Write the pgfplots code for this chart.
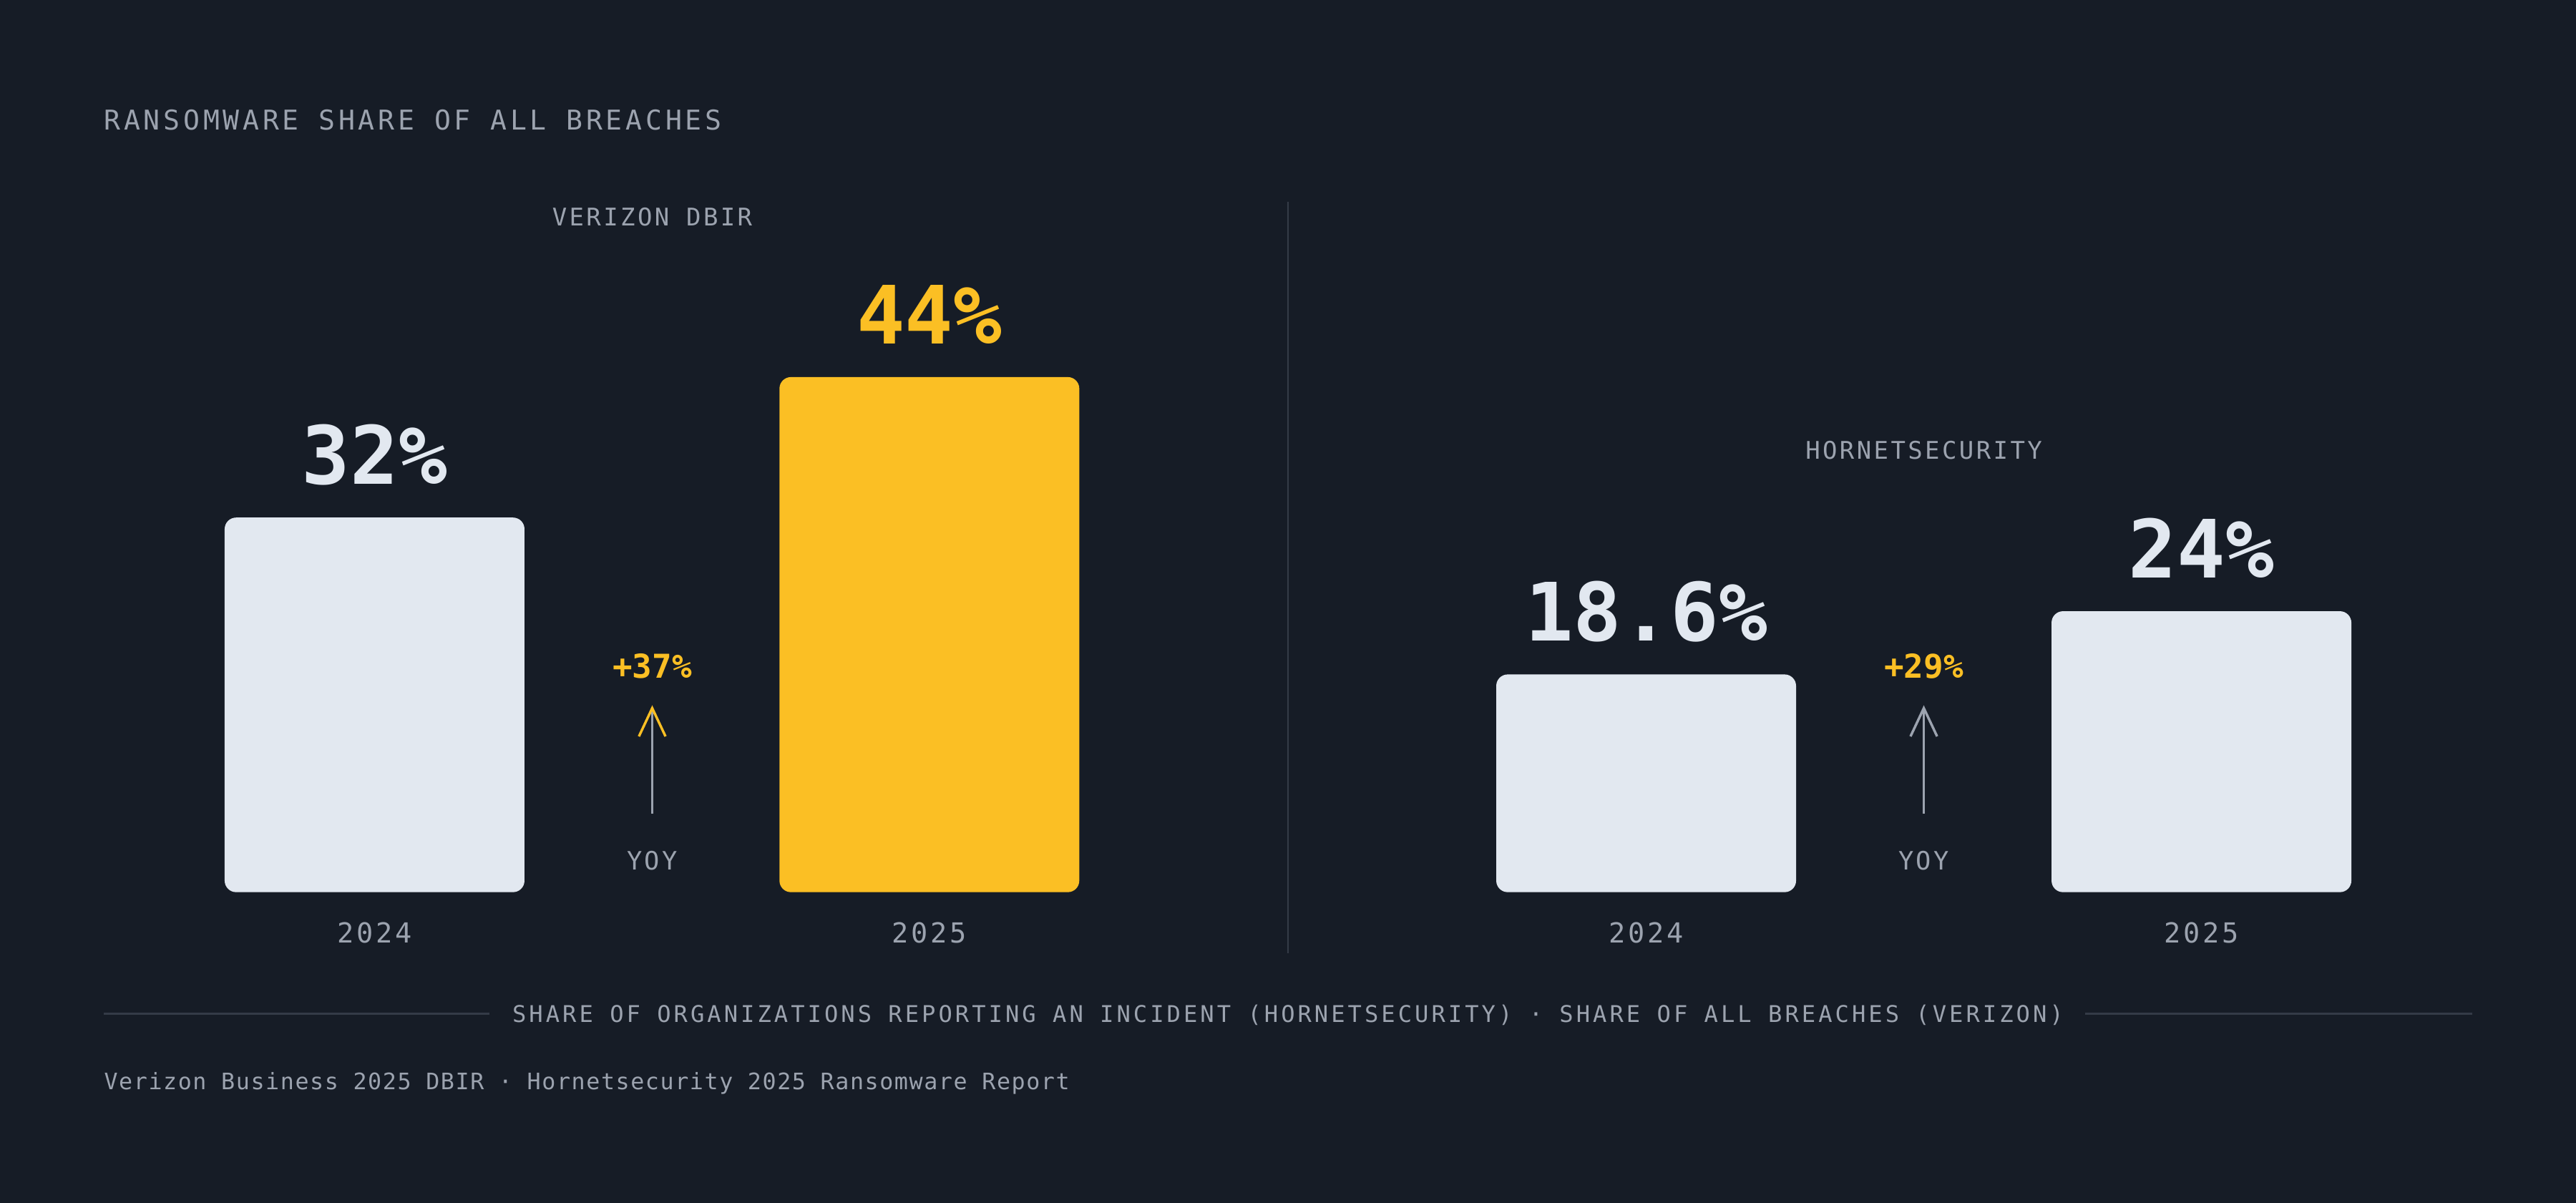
\documentclass[border=0pt]{standalone}
\usepackage{fontspec}
\usepackage{pgfplots}
\pgfplotsset{compat=1.18}

\setmainfont{DejaVu Sans Mono}
\newfontfamily\trkfont{DejaVu Sans Mono}[LetterSpace=10]
\newfontfamily\trkwide{DejaVu Sans Mono}[LetterSpace=12.5]
\newfontfamily\trkfoot{DejaVu Sans Mono}[LetterSpace=5]

\definecolor{bgc}{HTML}{161C26}
\definecolor{barlight}{HTML}{E2E8F0}
\definecolor{accent}{HTML}{FBBF24}
\definecolor{txtgray}{HTML}{9CA3AF}
\definecolor{rulec}{HTML}{343B47}

\begin{document}
\begin{tikzpicture}
% page background, 1568 x 732 units of 0.5pt
\fill[bgc] (0,0) rectangle (784pt,366pt);

\begin{axis}[
    at={(0pt,0pt)}, anchor=south west,
    width=784pt, height=366pt, scale only axis,
    xmin=0, xmax=1568,
    ymin=-26.526, ymax=76.21,
    hide axis, clip=false,
    /pgf/number format/assume math mode=true,
]
% Verizon 2024, Hornetsecurity 2024 / 2025
\addplot[ybar, bar shift=0pt, bar width=182.5, fill=barlight, draw=none,
    rounded corners=3.5pt,
    nodes near coords={\pgfmathprintnumber{\pgfplotspointmeta}\%},
    every node near coord/.append style={anchor=base, inner sep=0pt,
        yshift=10.2pt, text=barlight, rounded corners=0pt,
        font=\bfseries\fontsize{24.5}{24.5}\selectfont}]
    coordinates {(228,32) (1002,18.6) (1340,24)};
% Verizon 2025 (highlighted)
\addplot[ybar, bar shift=0pt, bar width=182.5, fill=accent, draw=none,
    rounded corners=3.5pt,
    nodes near coords={\pgfmathprintnumber{\pgfplotspointmeta}\%},
    every node near coord/.append style={anchor=base, inner sep=0pt,
        yshift=10.2pt, text=accent, rounded corners=0pt,
        font=\bfseries\fontsize{24.5}{24.5}\selectfont}]
    coordinates {(565.7,44)};
\end{axis}

% annotations, in the same 0.5pt units, y running down
\begin{scope}[x=0.5pt, y=-0.5pt, shift={(0pt,366pt)}]
  \node[anchor=base west, inner sep=0pt, text=txtgray,
        font=\trkwide\fontsize{8.3}{10}\selectfont]
        at (63,79.1) {RANSOMWARE SHARE OF ALL BREACHES};

  \node[anchor=base, inner sep=0pt, text=txtgray,
        font=\trkfont\fontsize{7.4}{9}\selectfont]
        at (397,137.4) {VERIZON DBIR};
  \node[anchor=base, inner sep=0pt, text=txtgray,
        font=\trkfont\fontsize{7.4}{9}\selectfont]
        at (1171,279.5) {HORNETSECURITY};

  % divider
  \draw[rulec, line width=0.5pt] (784,123) -- (784,580);

  % year labels
  \foreach \xx/\yr in {228/2024, 565.7/2025, 1002/2024, 1340/2025}
    \node[anchor=base, inner sep=0pt, text=txtgray,
          font=\trkfont\fontsize{8.4}{10}\selectfont] at (\xx,573.8) {\yr};

  % YoY markers
  \foreach \xx/\chg/\hc in {397/+37\%/accent, 1171/+29\%/txtgray} {
    \node[anchor=base, inner sep=0pt, text=accent,
          font=\bfseries\fontsize{10}{12}\selectfont] at (\xx,412.8) {\chg};
    \draw[txtgray, line width=0.55pt] (\xx,495.1) -- (\xx,433);
    \draw[\hc, line width=0.75pt, line join=miter]
        (\xx-8.1,448.2) -- (\xx,431) -- (\xx+8.1,448.2);
    \node[anchor=base, inner sep=0pt, text=txtgray,
          font=\trkfont\fontsize{7.7}{9}\selectfont] at (\xx,529.5) {YOY};
  }

  % bottom caption with rules
  \draw[rulec, line width=0.6pt] (63,617) -- (298,617);
  \draw[rulec, line width=0.6pt] (1269,617) -- (1505,617);
  \node[anchor=base, inner sep=0pt, text=txtgray,
        font=\trkwide\fontsize{7}{9}\selectfont] at (784,622.1)
        {SHARE OF ORGANIZATIONS REPORTING AN INCIDENT (HORNETSECURITY) · SHARE OF ALL BREACHES (VERIZON)};

  % source line
  \node[anchor=base west, inner sep=0pt, text=txtgray,
        font=\trkfoot\fontsize{6.9}{9}\selectfont] at (63,663)
        {Verizon Business 2025 DBIR · Hornetsecurity 2025 Ransomware Report};
\end{scope}
\end{tikzpicture}
\end{document}
